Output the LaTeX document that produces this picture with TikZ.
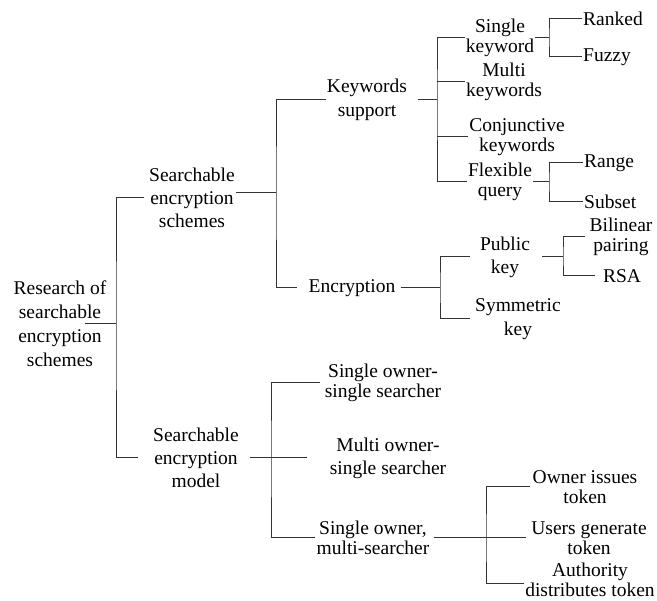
\documentclass[tikz,border=0pt]{standalone}
\usepackage{fontspec}
\setmainfont{Liberation Serif}
\begin{document}
\begin{tikzpicture}[x=1pt,y=-1pt,
  lbl/.style={align=center,inner sep=1pt,font=\fontsize{19.5}{23}\selectfont},
  tight/.style={font=\fontsize{19.5}{20}\selectfont},
  wide/.style={font=\fontsize{19.5}{24}\selectfont},
  wire/.style={line width=1pt,draw=black!80}]
\useasboundingbox (0,0) rectangle (657,601);
% nodes
\node[lbl,wide] (root) at (60,324) {Research of\\searchable\\encryption\\schemes};
\node[lbl] (ses) at (192,198) {Searchable\\encryption\\schemes};
\node[lbl] (sem) at (196,458) {Searchable\\encryption\\model};
\node[lbl,wide] (ks) at (367,100) {Keywords\\support};
\node[lbl] (enc) at (352,288) {Encryption};
\node[lbl,tight] (sk) at (500,38) {Single\\keyword};
\node[lbl,tight] (mk) at (504,82) {Multi\\keywords};
\node[lbl,tight] (cj) at (517,137) {Conjunctive\\keywords};
\node[lbl,tight] (fq) at (500,182) {Flexible\\query};
\node[lbl,anchor=west] (rk) at (582,19) {Ranked};
\node[lbl,anchor=west] (fz) at (582,57) {Fuzzy};
\node[lbl,anchor=west] (rg) at (583,163) {Range};
\node[lbl,anchor=west] (sb) at (583,202) {Subset};
\node[lbl] (pk) at (505,257) {Public\\key};
\node[lbl,wide] (sym) at (518,319) {Symmetric\\key};
\node[lbl,tight] (bil) at (621,237) {Bilinear\\pairing};
\node[lbl] (rsa) at (622,276) {RSA};
\node[lbl,tight] (sos) at (383,383) {Single owner-\\single searcher};
\node[lbl] (mos) at (388,458) {Multi owner-\\single searcher};
\node[lbl,tight] (som) at (373,538) {Single owner,\\multi-searcher};
\node[lbl,tight] (own) at (585,487) {Owner issues\\token};
\node[lbl,tight] (usr) at (589,538) {Users generate\\token};
\node[lbl,tight,inner sep=0pt,font=\fontsize{19.5}{19.5}\selectfont] (aut) at (590,580) {Authority\\distributes token};
% junctions
\coordinate (j0) at (116,324);
\coordinate (j1) at (276,193);
\coordinate (j2) at (437,100);
\coordinate (j3) at (549,38);
\coordinate (j4) at (549,182);
\coordinate (j5) at (440,288);
\coordinate (j6) at (563,257);
\coordinate (j7) at (271,458);
\coordinate (j8) at (486,538);
% connectors
\draw[wire] ([xshift=-22pt]root.east) -- (j0);
\draw[wire] ([xshift=-4pt]ses.west) -| (j0) |- ([xshift=-14pt]sem.west);
\draw[wire] ([yshift=5pt]ses.east) -- (j1);
\draw[wire] (ks.west) -| (j1) |- ([xshift=-10pt]enc.west);
\draw[wire] ([xshift=10pt]ks.east) -- (j2);
\draw[wire] (sk.west) -| (j2) |- (fq.west);
\draw[wire] (j2 |- mk.west) -- (mk.west);
\draw[wire] (j2 |- cj.west) -- (cj.west);
\draw[wire] (sk.east) -- (j3);
\draw[wire] (rk.west) -| (j3) |- (fz.west);
\draw[wire] (fq.east) -- (j4);
\draw[wire] (rg.west) -| (j4) |- (sb.west);
\draw[wire] ([xshift=4pt]enc.east) -- (j5);
\draw[wire] ([xshift=-9pt]pk.west) -| (j5) |- ([xshift=-4pt]sym.west);
\draw[wire] ([xshift=11pt]pk.east) -- (j6);
\draw[wire] ([xshift=-3pt]bil.west) -| (j6) |- ([xshift=-7pt]rsa.west);
\draw[wire] ([xshift=10pt]sem.east) -- ([xshift=-22pt]mos.west);
\draw[wire] ([xshift=-4pt]sos.west) -| (j7) |- (som.west);
\draw[wire] ([xshift=3pt]som.east) -- ([xshift=-4pt]usr.west);
\draw[wire] ([xshift=-2pt]own.west) -| ([yshift=-3pt]j8) |- ([xshift=-1pt,yshift=-4pt]aut.west);
\end{tikzpicture}
\end{document}
